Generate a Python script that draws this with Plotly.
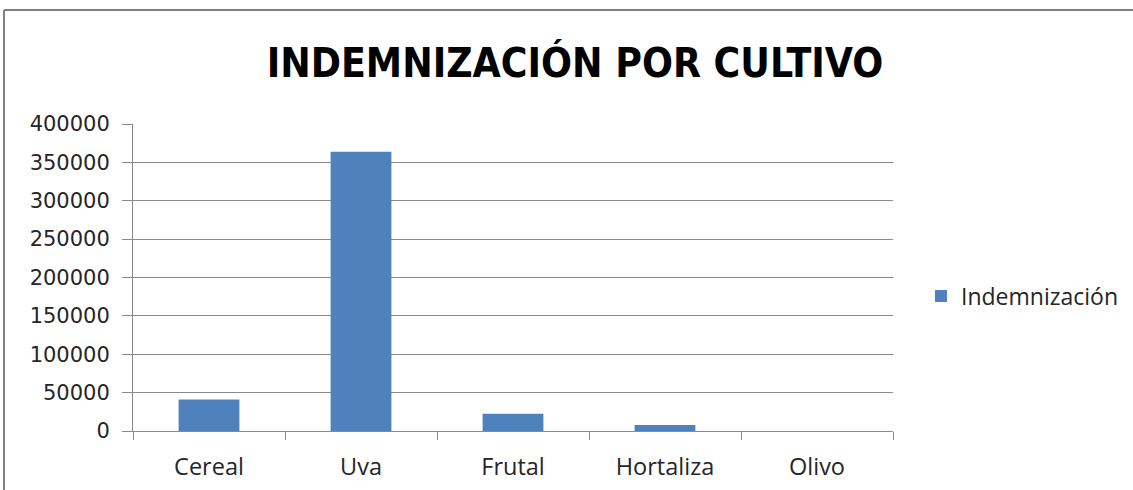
import plotly.graph_objects as go

categories = ["Cereal", "Uva", "Frutal", "Hortaliza", "Olivo"]
indemnizacion = [41000, 364000, 22500, 7800, 0]
series_name = "Indemnización"
title_text = "INDEMNIZACIÓN POR CULTIVO"
y_ticks = [0, 50000, 100000, 150000, 200000, 250000, 300000, 350000, 400000]

W, H = 1133, 490
L, R, T, B = 133, 893, 124, 431

fig = go.Figure()
fig.add_trace(go.Bar(
    x=categories, y=indemnizacion, name=series_name,
    marker=dict(color="#4F81BD", line=dict(width=0)),
    showlegend=True,
))

gray = "#8a8a8a"
txt = "#262626"
fig.update_layout(
    width=W, height=H,
    margin=dict(l=L, r=W - R, t=T, b=H - B, pad=0, autoexpand=False),
    paper_bgcolor="white", plot_bgcolor="white",
    bargap=0.6,
    title=dict(text="<b>" + title_text + "</b>", x=575 / W, xanchor="center",
               y=1 - 63 / H, yanchor="middle",
               font=dict(family="DejaVu Sans Condensed, DejaVu Sans", size=40.5, color="black")),
    font=dict(family="Open Sans", color=txt),
    showlegend=True,
    legend=dict(xref="container", yref="container",
                x=921 / W, xanchor="left", y=1 - 296 / H, yanchor="middle",
                font=dict(size=23, color=txt), bgcolor="rgba(0,0,0,0)",
                itemwidth=30),
    xaxis=dict(type="category", showline=True, linecolor=gray, linewidth=1,
               ticks="outside", tickson="boundaries", ticklen=8, tickcolor=gray,
               showgrid=False, tickfont=dict(family="Open Sans", size=23.5, color=txt),
               ticklabelstandoff=15,
               range=[-0.5, 4.5]),
    yaxis=dict(range=[0, 400000], tickvals=y_ticks, ticktext=[str(v) for v in y_ticks],
               showline=True, linecolor=gray, linewidth=1,
               ticks="outside", ticklen=10, tickcolor=gray,
               showgrid=True, gridcolor=gray, gridwidth=1, zeroline=False,
               ticklabelstandoff=8,
               tickfont=dict(family="DejaVu Sans", size=21, color=txt)),
)

# chart border (left and top)
fig.add_shape(type="line", xref="paper", yref="paper",
              x0=(4 - L) / (R - L), x1=(4 - L) / (R - L),
              y0=(B - 10) / (B - T), y1=(B - H - 5) / (B - T),
              line=dict(color="#808080", width=2))
fig.add_shape(type="line", xref="paper", yref="paper",
              x0=(4 - L) / (R - L), x1=(W + 5 - L) / (R - L),
              y0=(B - 10) / (B - T), y1=(B - 10) / (B - T),
              line=dict(color="#808080", width=2))

fig.write_html("out.html", config={"displayModeBar": False},
               post_script="document.body.style.margin='0';")
